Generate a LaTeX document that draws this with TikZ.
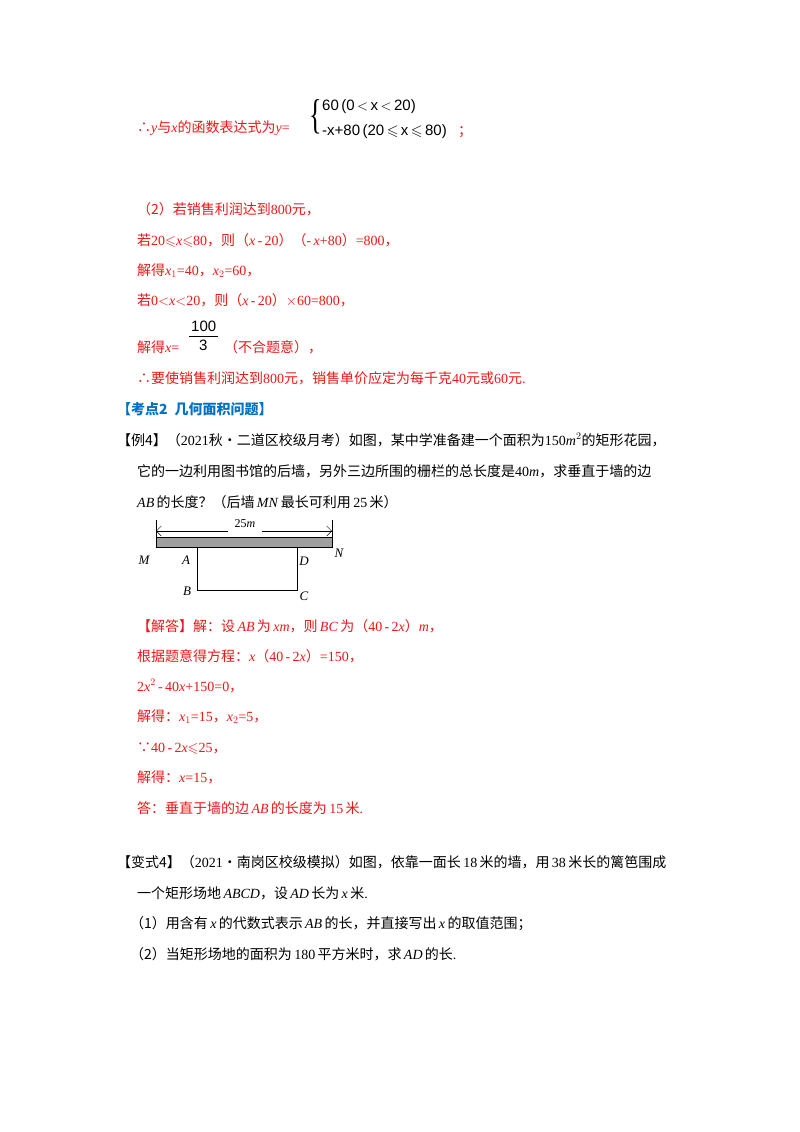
\documentclass[tikz,border=0pt]{standalone}
\usepackage{amssymb}
\usepackage{fontspec}
\usetikzlibrary{arrows.meta}
\setmainfont{Liberation Serif}
\newfontfamily\zhf{Noto Sans CJK SC}
\newfontfamily\sansf{Liberation Sans}
\newcommand\zh[1]{{\zhf #1}}
\newcommand\vv[1]{\textit{#1}}
\definecolor{ansred}{RGB}{235,25,25}
\definecolor{headblue}{RGB}{0,112,192}
\begin{document}
\begin{tikzpicture}[x=1pt,y=-1pt,
  txt/.style={anchor=base west,inner sep=0pt,font=\fontsize{14}{16}\selectfont},
  red/.style={txt,text=ansred},
  pw/.style={txt,font=\sansf\fontsize{15}{17}\selectfont},
  lab/.style={inner sep=0pt,font=\fontsize{13}{15}\selectfont\itshape}]
\useasboundingbox[fill=white] (0,0) rectangle (800,1132);
% piecewise
\node[red] (l1) at (137,132) {\zh{∴}\vv{y}\zh{与}\vv{x}\zh{的函数表达式为}\vv{y}=};
\node[inner sep=0pt,yscale=1.6,font=\fontsize{26}{26}\selectfont] (br) at (316,117) {\{};
\node[pw] (p1) at (322,110) {60\,(0\,$<$\,x\,$<$\,20)};
\node[pw] (p2) at (322,135) {-x+80\,(20\,$\leqslant$\,x\,$\leqslant$\,80)};
\node[red] (semi) at (458,135) {\zh{；}};
\node[red] (l2) at (137,214) {\zh{（2）若销售利润达到}800\zh{元，}};
\node[red] (l3) at (137,245) {\zh{若}20$\leqslant$\vv{x}$\leqslant$80\zh{，则（}\vv{x}\,-\,20\zh{）（}-\,\vv{x}+80\zh{）}=800\zh{，}};
\node[red] (l4) at (137,275) {\zh{解得}\vv{x}$_1$=40\zh{，}\vv{x}$_2$=60\zh{，}};
\node[red] (l5) at (137,305) {\zh{若}0$<$\vv{x}$<$20\zh{，则（}\vv{x}\,-\,20\zh{）}$\times$60=800\zh{，}};
\node[red] (l6) at (137,352) {\zh{解得}\vv{x}=};
\node[pw] (f1) at (191,331) {100};
\coordinate (fa) at (189,336); \coordinate (fb) at (218,336);
\draw (fa) -- (fb);
\node[pw] (f2) at (199,350) {3};
\node[red] (l6b) at (224,352) {\zh{（不合题意），}};
\node[red] (l7) at (137,383) {\zh{∴要使销售利润达到}800\zh{元，销售单价应定为每千克}40\zh{元或}60\zh{元}.};
\node[txt,text=headblue,font=\zhf\bfseries\fontsize{14}{16}\selectfont] (h) at (117,414) {【考点2\enspace 几何面积问题】};
\node[txt] (e1) at (117,445) {\zh{【例4】（}2021\zh{秋•二道区校级月考）如图，某中学准备建一个面积为}150\vv{m}$^2$\zh{的矩形花园，}};
\node[txt] (e2) at (137,476) {\zh{它的一边利用图书馆的后墙，另外三边所围的栅栏的总长度是}40\vv{m}\zh{，求垂直于墙的边}};
\node[txt] (e3) at (137,507) {\vv{AB}\,\zh{的长度？（后墙}\,\vv{MN}\,\zh{最长可利用}\,25\,\zh{米）}};
% diagram
\coordinate (M) at (156,537); \coordinate (N) at (332,547);
\draw[fill=gray!75] (M) rectangle (N);
\draw (156,520) -- (156,537); \draw (332,520) -- (332,537);
\node[lab,font=\fontsize{12}{14}\selectfont] (t25) at (245,524) {25\textit{m}};
\draw[-{Straight Barb[length=5pt]}] (t25.west) ++(-6,7) -- (156,531);
\draw[-{Straight Barb[length=5pt]}] (t25.east) ++(6,7) -- (332,531);
\coordinate (A) at (197,547); \coordinate (D) at (297,547);
\coordinate (B) at (197,590); \coordinate (C) at (297,590);
\draw (A) -- (B) -- (C) -- (D);
\node[lab] (lM) at (144,560) {M};
\node[lab] (lA) at (186,560) {A};
\node[lab] (lD) at (304,561) {D};
\node[lab] (lN) at (339,553) {N};
\node[lab] (lB) at (187,591) {B};
\node[lab] (lC) at (304,596) {C};
% answer
\node[red] (a1) at (137,631) {\zh{【解答】解：设}\,\vv{AB}\,\zh{为}\,\vv{xm}\zh{，则}\,\vv{BC}\,\zh{为（}40\,-\,2\vv{x}\zh{）}\vv{m}\zh{，}};
\node[red] (a2) at (137,661) {\zh{根据题意得方程：}\vv{x}\zh{（}40\,-\,2\vv{x}\zh{）}=150\zh{，}};
\node[red] (a3) at (137,691) {2\vv{x}$^2$\,-\,40\vv{x}+150=0\zh{，}};
\node[red] (a4) at (137,721) {\zh{解得：}\vv{x}$_1$=15\zh{，}\vv{x}$_2$=5\zh{，}};
\node[red] (a5) at (137,752) {\zh{∵}40\,-\,2\vv{x}$\leqslant$25\zh{，}};
\node[red] (a6) at (137,782) {\zh{解得：}\vv{x}=15\zh{，}};
\node[red] (a7) at (137,813) {\zh{答：垂直于墙的边}\,\vv{AB}\,\zh{的长度为}\,15\,\zh{米}.};
% variant
\node[txt] (v1) at (117,867) {\zh{【变式4】（}2021\zh{•南岗区校级模拟）如图，依靠一面长}\,18\,\zh{米的墙，用}\,38\,\zh{米长的篱笆围成}};
\node[txt] (v2) at (137,898) {\zh{一个矩形场地}\,\vv{ABCD}\zh{，设}\,\vv{AD}\,\zh{长为}\,\vv{x}\,\zh{米}.};
\node[txt] (v3) at (130,928) {\zh{（1）用含有}\,\vv{x}\,\zh{的代数式表示}\,\vv{AB}\,\zh{的长，并直接写出}\,\vv{x}\,\zh{的取值范围；}};
\node[txt] (v4) at (130,959) {\zh{（2）当矩形场地的面积为}\,180\,\zh{平方米时，求}\,\vv{AD}\,\zh{的长}.};
\end{tikzpicture}
\end{document}
